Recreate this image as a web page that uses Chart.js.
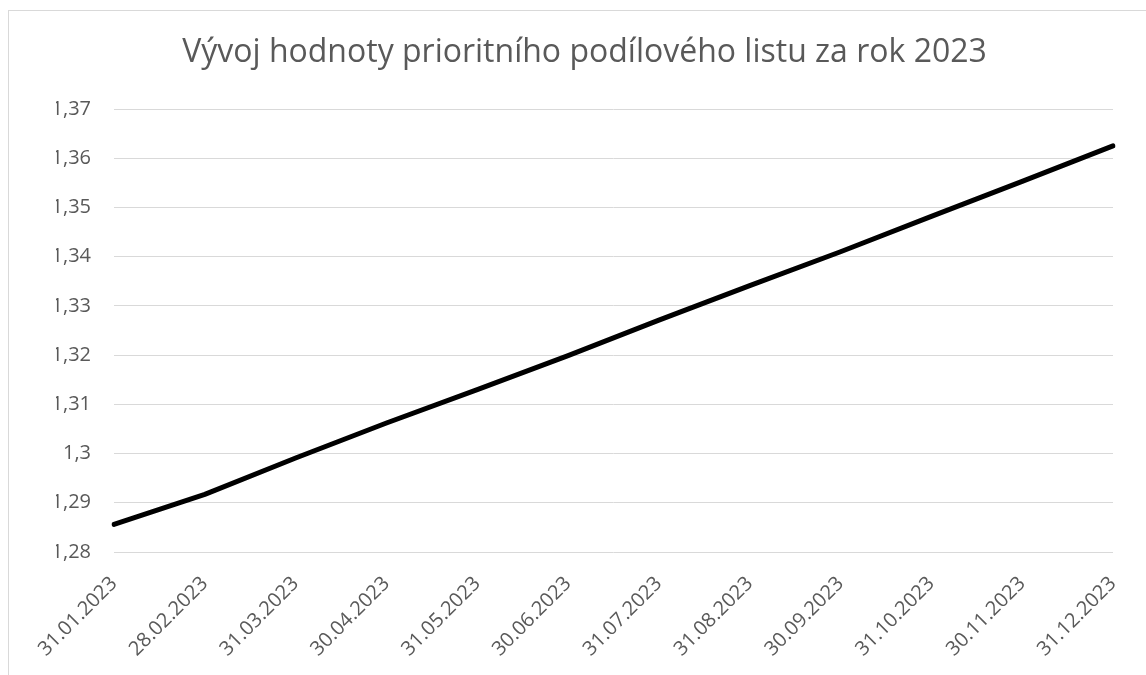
<!DOCTYPE html>
<html lang="cs">
<head>
<meta charset="utf-8">
<title>Vývoj hodnoty prioritního podílového listu</title>
<script src="https://cdn.jsdelivr.net/npm/chart.js@4.4.0/dist/chart.umd.min.js"></script>
<style>
  html, body { margin: 0; padding: 0; background: #fff; overflow: hidden; }
  #ramecek {
    position: absolute; left: 8px; top: 10px; width: 2000px; height: 2000px;
    border: 1px solid #d9d9d9;
  }
  #graf { position: absolute; left: 0; top: 0; }
</style>
</head>
<body>
<div id="ramecek"></div>
<canvas id="graf" width="1146" height="675"></canvas>
<script>
// Data
const datumy = [
  '31.01.2023', '28.02.2023', '31.03.2023', '30.04.2023', '31.05.2023', '30.06.2023',
  '31.07.2023', '31.08.2023', '30.09.2023', '31.10.2023', '30.11.2023', '31.12.2023'
];
const hodnoty = [
  1.2856, 1.2917, 1.2991, 1.3062, 1.3130, 1.3199,
  1.3271, 1.3341, 1.3410, 1.3482, 1.3553, 1.3625
];
const osaYMin = 1.28;
const osaYMax = 1.37;
const osaYKrok = 0.01;

const sedaText = '#595959';
const sedaMrizka = '#d9d9d9';
const pismo = '"Open Sans", "Noto Sans", sans-serif';

// Formát čísla po česku, bez koncových nul (1,3 místo 1,30)
function formatCislo(v) {
  return String(Math.round(v * 100) / 100).replace('.', ',');
}

// levý okraj posouvá střed nadpisu doprava, osa Y se tím zúží
const okrajVlevo = 56;

new Chart(document.getElementById('graf'), {
  type: 'line',
  data: {
    labels: datumy,
    datasets: [{
      data: hodnoty,
      borderColor: '#000000',
      borderWidth: 5,
      borderCapStyle: 'round',
      borderJoinStyle: 'round',
      pointRadius: 0,
      tension: 0,
      fill: false
    }]
  },
  options: {
    responsive: false,
    animation: false,
    layout: { padding: { left: okrajVlevo, right: 33, top: 0, bottom: 0 } },
    plugins: {
      legend: { display: false },
      tooltip: { enabled: false },
      title: {
        display: true,
        text: 'Vývoj hodnoty prioritního podílového listu za rok 2023',
        color: sedaText,
        font: { family: pismo, size: 32, weight: 'normal', lineHeight: 1.2 },
        padding: { top: 34, bottom: 36.6 }
      }
    },
    scales: {
      x: {
        offset: false,
        grid: { display: false },
        border: { display: false },
        ticks: {
          color: sedaText,
          font: { family: pismo, size: 20 },
          minRotation: 45,
          maxRotation: 45,
          autoSkip: false,
          padding: 12
        },
        afterFit: (scale) => { scale.height = 123; }
      },
      y: {
        min: osaYMin,
        max: osaYMax,
        grid: { color: sedaMrizka, lineWidth: 1, drawTicks: false },
        border: { display: false },
        ticks: {
          stepSize: osaYKrok,
          color: sedaText,
          font: { family: pismo, size: 20 },
          padding: 23,
          callback: (v) => formatCislo(v)
        },
        afterFit: (scale) => { scale.width = 114 - okrajVlevo; }
      }
    }
  }
});
</script>
</body>
</html>
